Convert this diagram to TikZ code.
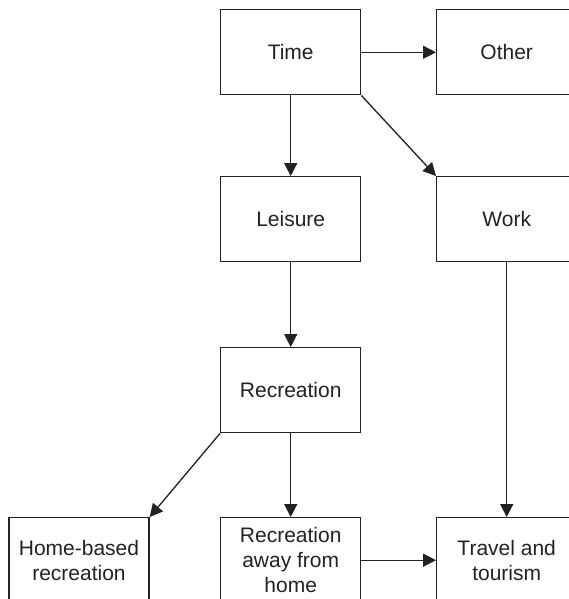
\documentclass[tikz,border=0pt]{standalone}
\usepackage{fontspec}
\setmainfont{Liberation Sans}
\usetikzlibrary{arrows.meta}
\definecolor{ink}{HTML}{222222}
\begin{document}
\begin{tikzpicture}[x=1pt,y=-1pt,
  box/.style={draw=ink, line width=1.3pt, rectangle, minimum width=140pt, minimum height=85pt, inner sep=0pt, align=center, text=ink, font=\fontsize{21}{25}\selectfont},
  conn/.style={draw=ink, line width=1.3pt, -{Triangle[length=13pt,width=13pt]}}]
\useasboundingbox (0,0) rectangle (569,599);
\clip (0,0) rectangle (569,599);
\node[box] (time) at (290.7,52.3) {Time};
\node[box] (other) at (506.7,52.3) {Other};
\node[box] (leisure) at (290.7,219.2) {Leisure};
\node[box] (work) at (506.7,219.2) {Work};
\node[box] (rec) at (290.7,390.2) {Recreation};
\node[box] (home) at (79,560.2) {Home-based\\recreation};
\node[box] (away) at (290.7,560.2) {Recreation\\away from\\home};
\node[box] (travel) at (506.7,560.2) {Travel and\\tourism};
\draw[conn] (time) -- (other);
\draw[conn] (time) -- (leisure);
\draw[conn] (time.south east) -- (work.north west);
\draw[conn] (leisure) -- (rec);
\draw[conn] (work) -- (travel);
\draw[conn] (rec.south west) -- (home.north east);
\draw[conn] (rec) -- (away);
\draw[conn] (away) -- (travel);
\end{tikzpicture}
\end{document}
